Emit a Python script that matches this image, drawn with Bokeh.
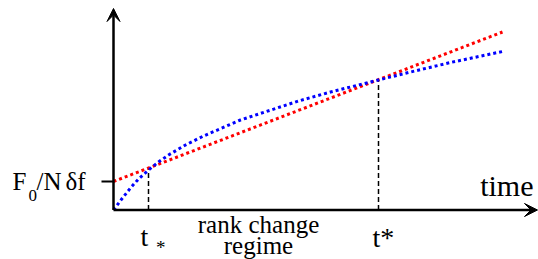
from bokeh.plotting import figure
from bokeh.models import Range1d, Arrow, VeeHead
from bokeh.core.properties import value
from bokeh.embed import file_html
from bokeh.resources import INLINE

# ---- data (schematic units) ----
blue_t = [0, 9, 17, 25, 35, 45, 55, 72, 90, 127, 185, 217, 265, 295, 337, 389]
blue_f = [0, 12, 22, 31, 40, 48, 55, 65, 74, 90, 109, 118, 130, 137.5, 147.5, 158.5]
red_t = [0, 389]
red_f = [28.5, 178]
t_low = 35        # t_*
t_high = 265      # t*
f_low = 41        # height of curves at t_*
f_high = 130      # height of curves at t*
f0_level = 28.5   # F0/N δf
x_axis_end = 424
y_axis_end = 201.5

FONT = "Liberation Serif"

# page-pixel helpers for label placement (layout only)
def px(x):
    return x - 113

def py(y):
    return 209.5 - y

p = figure(width=538, height=259, output_backend="svg", toolbar_location=None,
           x_range=Range1d(-113, 425), y_range=Range1d(-49.5, 209.5),
           x_axis_type=None, y_axis_type=None, min_border=0)
p.outline_line_color = None
p.grid.visible = False
p.background_fill_color = "white"
p.border_fill_color = "white"

p.add_layout(Arrow(end=VeeHead(size=13, fill_color="black", line_color="black"),
                   x_start=0, y_start=0, x_end=x_axis_end, y_end=0,
                   line_width=2.5, line_color="black"))
p.add_layout(Arrow(end=VeeHead(size=13, fill_color="black", line_color="black"),
                   x_start=0, y_start=0, x_end=0, y_end=y_axis_end,
                   line_width=2.5, line_color="black"))

p.segment(x0=[-12], y0=[f0_level], x1=[0], y1=[f0_level], line_color="black", line_width=2)
p.segment(x0=[t_low, t_high], y0=[0, 0], x1=[t_low, t_high], y1=[f_low, f_high],
          line_color="black", line_width=1.5, line_dash="5 3")

p.line(red_t, red_f, line_color="#ff0000", line_width=3, line_dash="3 3")
p.line(blue_t, blue_f, line_color="#0000ff", line_width=3, line_dash="3 3")

def label(x, y, txt, size, align="left", baseline="alphabetic"):
    p.text(x=[px(x)], y=[py(y)], text=[txt], text_font=value(FONT),
           text_font_size=f"{size}px", text_align=align, text_baseline=baseline,
           text_color="black")

label(12, 180.5, "F", 25)
label(28, 194.5, "0", 17)
label(36, 180.5, "/N", 25)
label(65, 180.5, "δf", 25)
label(533, 185, "time", 30, align="right")
label(372, 237, "t*", 28)
label(140, 236, "t", 28)
label(155.5, 236, "*", 19, baseline="top")
label(258, 223.5, "rank change", 25, align="center")
label(258, 244.5, "regime", 25, align="center")

open("out.html", "w").write(file_html(p, INLINE))
